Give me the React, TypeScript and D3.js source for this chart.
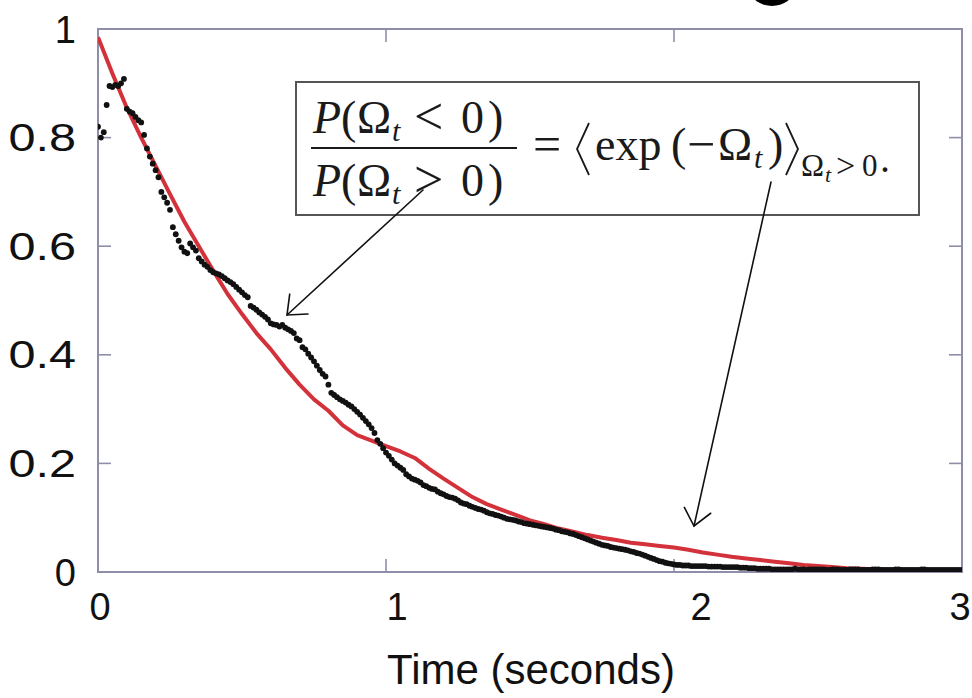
import React from 'react';
import * as d3 from 'd3';

const xTicks = [0, 1, 2, 3];
const xTickLabels = ['0', '1', '2', '3'];
const yTicks = [0, 0.2, 0.4, 0.6, 0.8, 1];
const yTickLabels = ['0', '0.2', '0.4', '0.6', '0.8', '1'];
const innerTicksX = [1, 2];
const innerTicksY = [0.2, 0.4, 0.6, 0.8];

// red curve, sampled every 0.05 s
const redStep = 0.05;
const redValues = [
  0.985, 0.918, 0.855, 0.8, 0.748, 0.696, 0.645, 0.6, 0.555, 0.512,
  0.475, 0.44, 0.41, 0.376, 0.345, 0.318, 0.297, 0.27, 0.252, 0.242,
  0.232, 0.222, 0.21, 0.19, 0.172, 0.155, 0.138, 0.125, 0.115, 0.105,
  0.095, 0.088, 0.08, 0.074, 0.068, 0.063, 0.059, 0.054, 0.051, 0.048,
  0.045, 0.041, 0.036, 0.032, 0.028, 0.025, 0.022, 0.019, 0.016, 0.013,
  0.011, 0.009, 0.007, 0.006, 0.005, 0.004, 0.004, 0.003, 0.003, 0.003,
  0.003,
];

// black points, sampled every 0.01 s
const blackStep = 0.01;
const blackValues = [
  0.82, 0.8, 0.81, 0.86, 0.895, 0.893, 0.897, 0.895, 0.9, 0.908,
  0.853, 0.848, 0.845, 0.838, 0.832, 0.828, 0.805, 0.78, 0.765, 0.752,
  0.74, 0.727, 0.7, 0.69, 0.68, 0.667, 0.635, 0.622, 0.61, 0.598,
  0.59, 0.587, 0.605, 0.598, 0.592, 0.578, 0.572, 0.566, 0.562, 0.556,
  0.552, 0.55, 0.548, 0.545, 0.541, 0.537, 0.534, 0.53, 0.525, 0.52,
  0.515, 0.51, 0.506, 0.49, 0.487, 0.483, 0.478, 0.474, 0.47, 0.465,
  0.458, 0.456, 0.455, 0.452, 0.455, 0.45, 0.447, 0.444, 0.44, 0.43,
  0.427, 0.414, 0.41, 0.402, 0.395, 0.388, 0.38, 0.372, 0.365, 0.36,
  0.345, 0.33, 0.326, 0.322, 0.318, 0.315, 0.312, 0.308, 0.305, 0.3,
  0.295, 0.29, 0.284, 0.278, 0.272, 0.265, 0.256, 0.243, 0.236, 0.228,
  0.22, 0.214, 0.207, 0.2, 0.196, 0.192, 0.188, 0.18, 0.176, 0.172,
  0.17, 0.168, 0.165, 0.16, 0.158, 0.155, 0.153, 0.152, 0.148, 0.145,
  0.143, 0.14, 0.138, 0.137, 0.135, 0.132, 0.128, 0.126, 0.125, 0.122,
  0.12, 0.118, 0.116, 0.115, 0.113, 0.11, 0.108, 0.107, 0.105, 0.104,
  0.102, 0.1, 0.098, 0.097, 0.096, 0.095, 0.093, 0.092, 0.09, 0.089,
  0.088, 0.087, 0.086, 0.085, 0.084, 0.083, 0.082, 0.081, 0.08, 0.078,
  0.077, 0.075, 0.074, 0.073, 0.071, 0.07, 0.068, 0.066, 0.064, 0.062,
  0.06, 0.058, 0.056, 0.054, 0.052, 0.05, 0.049, 0.048, 0.046, 0.045,
  0.044, 0.043, 0.042, 0.041, 0.04, 0.038, 0.037, 0.035, 0.034, 0.032,
  0.03, 0.028, 0.026, 0.024, 0.022, 0.02, 0.019, 0.017, 0.016, 0.015,
  0.014, 0.013, 0.013, 0.012, 0.012, 0.012, 0.011, 0.011, 0.011, 0.011,
  0.011, 0.011, 0.01, 0.01, 0.01, 0.01, 0.01, 0.009, 0.009, 0.009,
  0.009, 0.009, 0.009, 0.008, 0.008, 0.008, 0.007, 0.007, 0.007, 0.006,
  0.006, 0.006, 0.006, 0.006, 0.005, 0.005, 0.005, 0.005, 0.005, 0.005,
  0.005, 0.005, 0.006, 0.005, 0.005, 0.005, 0.004, 0.005, 0.005, 0.005,
  0.005, 0.005, 0.005, 0.004, 0.004, 0.005, 0.005, 0.005, 0.004, 0.004,
  0.004, 0.005, 0.005, 0.005, 0.005, 0.004, 0.004, 0.004, 0.004, 0.005,
  0.005, 0.005, 0.004, 0.004, 0.004, 0.004, 0.004, 0.005, 0.005, 0.004,
  0.004, 0.004, 0.004, 0.004, 0.004, 0.004, 0.005, 0.005, 0.004, 0.004,
  0.004, 0.004, 0.004, 0.004, 0.004, 0.004, 0.004, 0.004, 0.004, 0.004,
  0.004,
];

const xAxisTitle = 'Time (seconds)';

const W = 972;
const H = 698;
const SANS = '"Liberation Sans", Arial, Helvetica, sans-serif';
const SERIF = '"Liberation Serif", "Times New Roman", serif';

function Arrow({ x1, y1, x2, y2 }: { x1: number; y1: number; x2: number; y2: number }) {
  const ang = Math.atan2(y1 - y2, x1 - x2);
  const L = 21;
  const a = (40 * Math.PI) / 180;
  const p1 = [x2 + L * Math.cos(ang + a), y2 + L * Math.sin(ang + a)];
  const p2 = [x2 + L * Math.cos(ang - a), y2 + L * Math.sin(ang - a)];
  return (
    <g stroke="#111" strokeWidth={1.6} fill="none" strokeLinecap="round">
      <line x1={x1} y1={y1} x2={x2} y2={y2} />
      <polyline points={`${p1[0]},${p1[1]} ${x2},${y2} ${p2[0]},${p2[1]}`} />
    </g>
  );
}

export default function App() {
  const x = d3.scaleLinear().domain([0, 3]).range([98, 962]);
  const y = d3.scaleLinear().domain([0, 1]).range([572, 29]);
  const xLabelPos = d3.scaleLinear().domain([0, 1, 2, 3]).range([100, 397, 701, 960]);

  const redLine = d3
    .line<number>()
    .x((_, i) => x(i * redStep))
    .y((d) => y(d))
    .curve(d3.curveLinear);

  const frame = '#8e8eaa';
  const eq = '#1a1a1a';

  return (
    <svg
      width={W}
      height={H}
      viewBox={`0 0 ${W} ${H}`}
      style={{ position: 'absolute', left: 0, top: 0, background: '#fff' }}
    >
      <rect x={0} y={0} width={W} height={H} fill="#fff" />
      <defs>
        <clipPath id="plotClip">
          <rect x={x(0)} y={y(1)} width={x(3) - x(0)} height={y(0) - y(1)} />
        </clipPath>
        <clipPath id="topClip">
          <rect x={0} y={0} width={W} height={7} />
        </clipPath>
      </defs>

      {/* fragment of a large glyph above the chart */}
      <ellipse cx={772} cy={-9} rx={21} ry={15} fill="#000" clipPath="url(#topClip)" />

      {/* frame */}
      <rect x={x(0)} y={y(1)} width={x(3) - x(0)} height={y(0) - y(1)} fill="none" stroke={frame} strokeWidth={2} />
      {innerTicksX.map((t) => (
        <g key={'tx' + t} stroke={frame} strokeWidth={1.6}>
          <line x1={x(t)} x2={x(t)} y1={y(1)} y2={y(1) + 13} />
          <line x1={x(t)} x2={x(t)} y1={y(0)} y2={y(0) - 13} />
        </g>
      ))}
      {innerTicksY.map((t) => (
        <g key={'ty' + t} stroke={frame} strokeWidth={1.6}>
          <line x1={x(0)} x2={x(0) + 13} y1={y(t)} y2={y(t)} />
          <line x1={x(3)} x2={x(3) - 13} y1={y(t)} y2={y(t)} />
        </g>
      ))}

      {/* data */}
      <g clipPath="url(#plotClip)">
        <path d={redLine(redValues) || ''} fill="none" stroke="#d3323b" strokeWidth={4} strokeLinejoin="round" />
        {blackValues.map((v, i) => (
          <circle key={i} cx={x(i * blackStep)} cy={y(v)} r={2.9} fill="#111" />
        ))}
      </g>

      {/* y tick labels */}
      {yTicks.map((t, i) => (
        <text
          key={'yl' + t}
          transform={`translate(76, ${y(t)}) scale(${yTickLabels[i].length > 1 ? 1.28 : 1}, 1)`}
          dy="0.36em"
          textAnchor="end"
          fontFamily={SANS}
          fontSize={38}
          fill="#111"
        >
          {yTickLabels[i]}
        </text>
      ))}
      {/* x tick labels */}
      {xTicks.map((t, i) => (
        <text
          key={'xl' + t}
          x={xLabelPos(t)}
          y={620}
          textAnchor="middle"
          fontFamily={SANS}
          fontSize={38}
          fill="#111"
        >
          {xTickLabels[i]}
        </text>
      ))}
      <text x={531} y={684} textAnchor="middle" fontFamily={SANS} fontSize={42} fill="#111">
        {xAxisTitle}
      </text>

      {/* equation box */}
      <rect x={296} y={82} width={623} height={133} fill="#fff" stroke="#555" strokeWidth={2} />
      <g fontFamily={SERIF} fill={eq}>
        {/* numerator */}
        <text x={313} y={133} fontSize={46} fontStyle="italic">P</text>
        <text x={341} y={133} fontSize={46}>(</text>
        <text x={357} y={133} fontSize={46}>Ω</text>
        <text x={392} y={141} fontSize={30} fontStyle="italic">t</text>
        <text x={414} y={134} fontSize={52}>&lt;</text>
        <text x={461} y={133} fontSize={46}>0</text>
        <text x={488} y={133} fontSize={46}>)</text>
        {/* bar */}
        <line x1={311} x2={517} y1={148} y2={148} stroke={eq} strokeWidth={2} />
        {/* denominator */}
        <text x={313} y={196} fontSize={46} fontStyle="italic">P</text>
        <text x={341} y={196} fontSize={46}>(</text>
        <text x={357} y={196} fontSize={46}>Ω</text>
        <text x={392} y={204} fontSize={30} fontStyle="italic">t</text>
        <text x={414} y={197} fontSize={52}>&gt;</text>
        <text x={461} y={196} fontSize={46}>0</text>
        <text x={488} y={196} fontSize={46}>)</text>
        {/* right-hand side */}
        <text x={533} y={161} fontSize={50}>=</text>
        <polyline points="589,123 577,149 589,175" fill="none" stroke={eq} strokeWidth={1.8} />
        <text x={595} y={160} fontSize={46}>exp</text>
        <text x={671} y={160} fontSize={46}>(</text>
        <text x={687} y={161} fontSize={50}>−</text>
        <text x={718} y={160} fontSize={46}>Ω</text>
        <text x={754} y={168} fontSize={30} fontStyle="italic">t</text>
        <text x={768} y={160} fontSize={46}>)</text>
        <polyline points="786,123 798,149 786,175" fill="none" stroke={eq} strokeWidth={1.8} />
        <text x={801} y={176} fontSize={31}>Ω</text>
        <text x={825} y={182} fontSize={22} fontStyle="italic">t</text>
        <text x={836} y={177} fontSize={34}>&gt;</text>
        <text x={862} y={176} fontSize={31}>0</text>
        <text x={880} y={172} fontSize={40}>.</text>
      </g>

      {/* arrows */}
      <Arrow x1={423} y1={190} x2={287} y2={315} />
      <Arrow x1={771} y1={182} x2={694} y2={526} />
    </svg>
  );
}
